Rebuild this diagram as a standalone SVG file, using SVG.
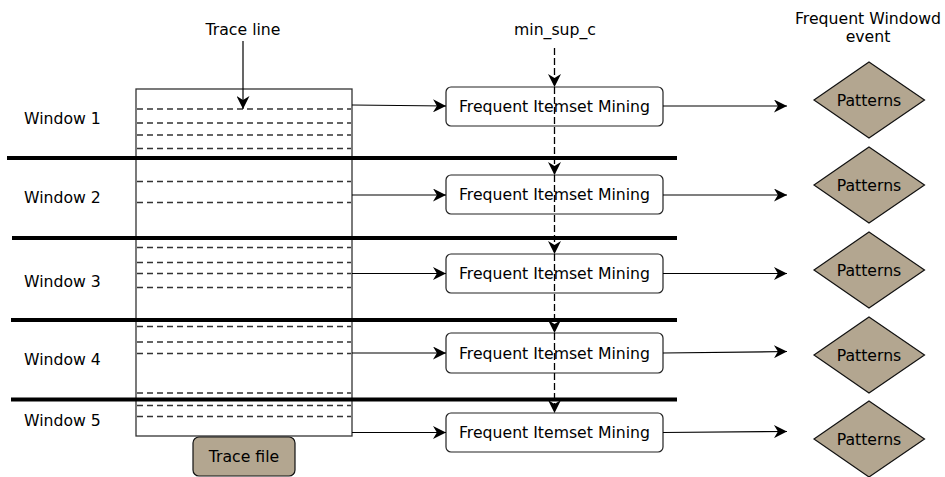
<svg xmlns="http://www.w3.org/2000/svg" width="945" height="477" viewBox="0 0 945 477">
<defs>
<marker id="ahb" viewBox="0 0 10 10" refX="10" refY="5" markerWidth="14" markerHeight="13" markerUnits="userSpaceOnUse" orient="auto">
<path d="M0,0 L10,5 L0,10 L3,5 Z" fill="#000"/>
</marker>
</defs>
<style>
text{font-family:"DejaVu Sans",sans-serif;font-size:15.7px;fill:#000}
.mid{text-anchor:middle}
.fim{fill:#fff;stroke:#222;stroke-width:1.2}
.pat{fill:#b3a690;stroke:#111;stroke-width:1.2}
.dash{stroke:#333;stroke-width:1.3;stroke-dasharray:6,4;fill:none}
.thick{stroke:#000;stroke-width:4}
.conn{stroke:#000;stroke-width:1.2;fill:none}
.vdash{stroke:#000;stroke-width:1.3;stroke-dasharray:7,3;fill:none}
</style>
<rect width="945" height="477" fill="#fff"/>

<g id="trace">
<rect x="136" y="89" width="216" height="347" fill="#fff" stroke="#333" stroke-width="1.3"/>
<line class="dash" x1="137" y1="109" x2="351" y2="109"/>
<line class="dash" x1="137" y1="123" x2="351" y2="123"/>
<line class="dash" x1="137" y1="135" x2="351" y2="135"/>
<line class="dash" x1="137" y1="148.5" x2="351" y2="148.5"/>
<line class="dash" x1="137" y1="181.5" x2="351" y2="181.5"/>
<line class="dash" x1="137" y1="202.5" x2="351" y2="202.5"/>
<line class="dash" x1="137" y1="247.5" x2="351" y2="247.5"/>
<line class="dash" x1="137" y1="262.5" x2="351" y2="262.5"/>
<line class="dash" x1="137" y1="273.5" x2="351" y2="273.5"/>
<line class="dash" x1="137" y1="287.5" x2="351" y2="287.5"/>
<line class="dash" x1="137" y1="326.5" x2="351" y2="326.5"/>
<line class="dash" x1="137" y1="342" x2="351" y2="342"/>
<line class="dash" x1="137" y1="353.5" x2="351" y2="353.5"/>
<line class="dash" x1="137" y1="393" x2="351" y2="393"/>
<line class="dash" x1="137" y1="405.5" x2="351" y2="405.5"/>
<line class="dash" x1="137" y1="416.5" x2="351" y2="416.5"/>
</g>

<g id="tracefile">
<rect x="193" y="437" width="102" height="39" rx="6" class="pat"/>
<text class="mid" x="244" y="462">Trace file</text>
</g>

<g id="separators">
<line class="thick" x1="7" y1="158" x2="677" y2="158"/>
<line class="thick" x1="12" y1="238" x2="677" y2="238"/>
<line class="thick" x1="11" y1="320" x2="677" y2="320"/>
<line class="thick" x1="11" y1="399.5" x2="677" y2="399.5"/>
</g>

<g id="labels">
<text x="24" y="124">Window 1</text>
<text x="24" y="203">Window 2</text>
<text x="24" y="287">Window 3</text>
<text x="24" y="365">Window 4</text>
<text x="24" y="426">Window 5</text>
<text class="mid" x="243" y="35">Trace line</text>
<text class="mid" x="555" y="35">min_sup_c</text>
<text class="mid" x="868" y="24">Frequent Windowd</text>
<text class="mid" x="868" y="42">event</text>
</g>

<g id="fim1"><rect class="fim" x="446" y="87" width="217" height="39" rx="5"/><text class="mid" x="554.5" y="112">Frequent Itemset Mining</text></g>
<g id="fim2"><rect class="fim" x="446" y="175" width="217" height="39" rx="5"/><text class="mid" x="554.5" y="200">Frequent Itemset Mining</text></g>
<g id="fim3"><rect class="fim" x="446" y="254" width="217" height="39" rx="5"/><text class="mid" x="554.5" y="279">Frequent Itemset Mining</text></g>
<g id="fim4"><rect class="fim" x="446" y="333" width="217" height="40" rx="5"/><text class="mid" x="554.5" y="359">Frequent Itemset Mining</text></g>
<g id="fim5"><rect class="fim" x="446" y="413" width="217" height="39" rx="5"/><text class="mid" x="554.5" y="438">Frequent Itemset Mining</text></g>

<g id="pat1"><polygon class="pat" points="869,62 924.5,100 869,138 814,100"/><text class="mid" x="869" y="106">Patterns</text></g>
<g id="pat2"><polygon class="pat" points="869,147 924.5,185 869,223 814,185"/><text class="mid" x="869" y="191">Patterns</text></g>
<g id="pat3"><polygon class="pat" points="869,232 924.5,270 869,308 814,270"/><text class="mid" x="869" y="276">Patterns</text></g>
<g id="pat4"><polygon class="pat" points="869,317 924.5,355 869,393 814,355"/><text class="mid" x="869" y="361">Patterns</text></g>
<g id="pat5"><polygon class="pat" points="869,401 924.5,439 869,477 814,439"/><text class="mid" x="869" y="445">Patterns</text></g>

<g id="connectors">
<line class="conn" x1="243" y1="41" x2="243" y2="109" marker-end="url(#ahb)"/>
<line class="vdash" x1="554.5" y1="48" x2="554.5" y2="87" marker-end="url(#ahb)"/>
<line class="vdash" x1="554.5" y1="87" x2="554.5" y2="175" marker-end="url(#ahb)"/>
<line class="vdash" x1="554.5" y1="175" x2="554.5" y2="254" marker-end="url(#ahb)"/>
<line class="vdash" x1="554.5" y1="254" x2="554.5" y2="333" marker-end="url(#ahb)"/>
<line class="vdash" x1="554.5" y1="333" x2="554.5" y2="413" marker-end="url(#ahb)"/>

<line class="conn" x1="352" y1="105" x2="446" y2="106" marker-end="url(#ahb)"/>
<line class="conn" x1="352" y1="195" x2="446" y2="195" marker-end="url(#ahb)"/>
<line class="conn" x1="352" y1="273.5" x2="446" y2="273.5" marker-end="url(#ahb)"/>
<line class="conn" x1="352" y1="353" x2="446" y2="353" marker-end="url(#ahb)"/>
<line class="conn" x1="352" y1="432.5" x2="446" y2="432.5" marker-end="url(#ahb)"/>

<line class="conn" x1="663" y1="106" x2="787" y2="106" marker-end="url(#ahb)"/>
<line class="conn" x1="663" y1="195" x2="787" y2="195" marker-end="url(#ahb)"/>
<line class="conn" x1="663" y1="273.5" x2="787" y2="273.5" marker-end="url(#ahb)"/>
<line class="conn" x1="663" y1="353" x2="787" y2="351.5" marker-end="url(#ahb)"/>
<line class="conn" x1="663" y1="432.5" x2="787" y2="431.5" marker-end="url(#ahb)"/>
</g>
</svg>
